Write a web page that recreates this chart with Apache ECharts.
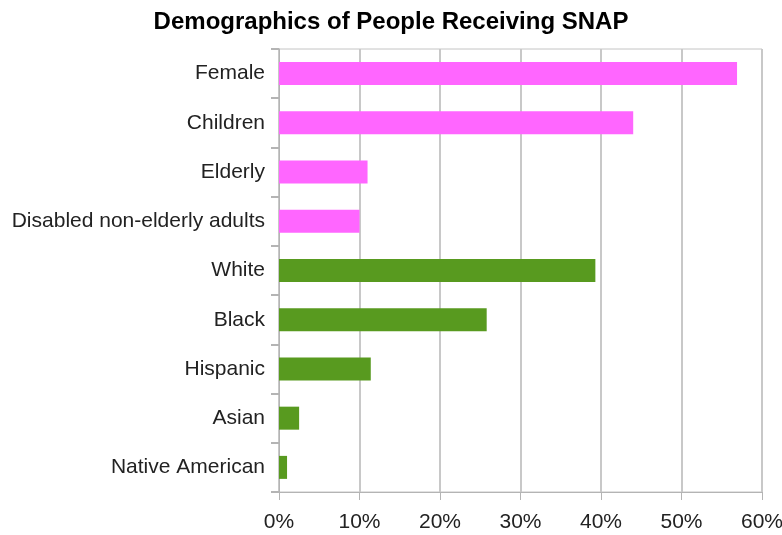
<!DOCTYPE html>
<html>
<head>
<meta charset="utf-8">
<script src="https://cdn.jsdelivr.net/npm/echarts@6/dist/echarts.min.js"></script>
<style>html,body{margin:0;padding:0;background:#fff;}#c{width:782px;height:535px;}</style>
</head>
<body>
<div id="c"></div>
<script>
const categories = ["Female", "Children", "Elderly", "Disabled non-elderly adults", "White", "Black", "Hispanic", "Asian", "Native American"];
const values = [56.9, 44.0, 11.0, 10.0, 39.3, 25.8, 11.4, 2.5, 1.0];
const barColors = ["#ff66ff", "#ff66ff", "#ff66ff", "#ff66ff", "#589a1f", "#589a1f", "#589a1f", "#589a1f", "#589a1f"];
const xTicks = [0, 10, 20, 30, 40, 50, 60];

const chart = echarts.init(document.getElementById('c'));
chart.setOption({
  animation: false,
  backgroundColor: '#fff',
  title: {
    text: 'Demographics of People Receiving SNAP',
    left: 'center', top: 5,
    textStyle: { fontFamily: 'Liberation Sans', fontWeight: 'bold', fontSize: 24, color: '#000' }
  },
  grid: { left: 279, right: 20, top: 49, bottom: 43, outerBoundsMode: 'none', containLabel: false, show: true, borderColor: '#c4c4c4', borderWidth: 1, backgroundColor: 'transparent' },
  xAxis: {
    type: 'value', min: xTicks[0], max: xTicks[xTicks.length - 1], interval: 10,
    axisLine: { show: true, lineStyle: { color: '#b4b4b4', width: 1 } },
    axisTick: { show: true, length: 8, lineStyle: { color: '#b4b4b4' } },
    splitLine: { show: true, lineStyle: { color: '#c8c8c8', width: 2 } },
    axisLabel: { formatter: '{value}%', fontFamily: 'Liberation Sans', fontSize: 21, color: '#222', margin: 20 }
  },
  yAxis: {
    type: 'category', data: categories, inverse: true,
    axisLine: { show: true, lineStyle: { color: '#b4b4b4', width: 1 } },
    axisTick: { show: true, length: 8, lineStyle: { color: '#b4b4b4', width: 2 } },
    axisLabel: { fontFamily: 'Liberation Sans', fontSize: 21, color: '#222', margin: 14 }
  },
  series: [{
    type: 'bar',
    data: values.map((v, i) => ({ value: v, itemStyle: { color: barColors[i] } })),
    barWidth: 23
  }]
});
</script>
</body>
</html>
